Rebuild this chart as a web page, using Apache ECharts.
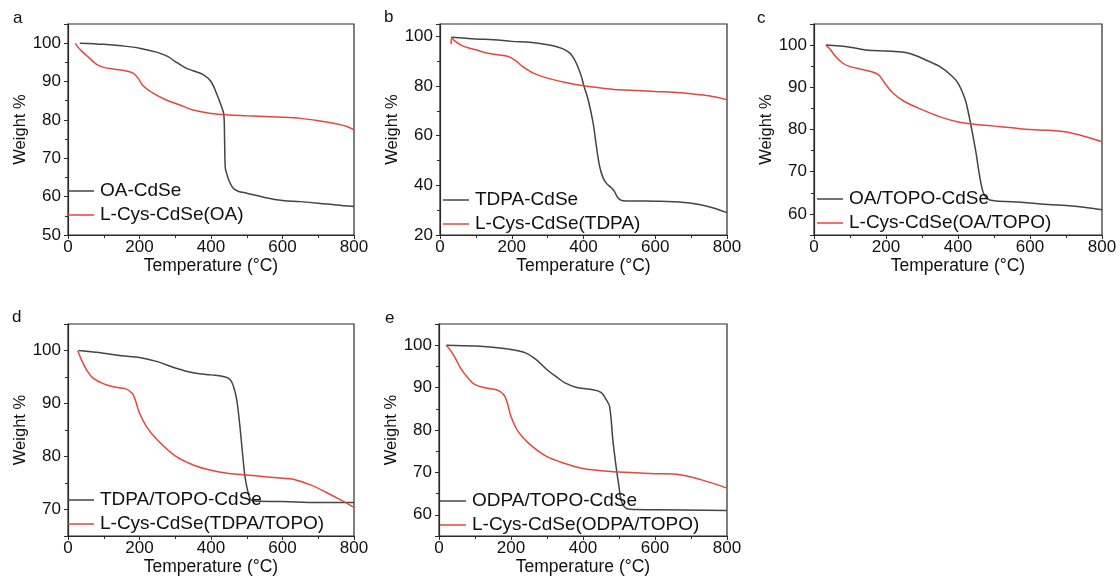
<!DOCTYPE html>
<html>
<head>
<meta charset="utf-8">
<script src="https://cdn.jsdelivr.net/npm/echarts@6/dist/echarts.min.js"></script>
<style>
html,body{margin:0;padding:0;background:#fff;}
#chart{width:1120px;height:583px;}
</style>
</head>
<body>
<div id="chart"></div>
<script>
// ---- Data (Temperature °C, Weight %) ----
const panelLabels = ['a', 'b', 'c', 'd', 'e'];
const blackNames = ['OA-CdSe', 'TDPA-CdSe', 'OA/TOPO-CdSe', 'TDPA/TOPO-CdSe', 'ODPA/TOPO-CdSe'];
const redNames = ['L-Cys-CdSe(OA)', 'L-Cys-CdSe(TDPA)', 'L-Cys-CdSe(OA/TOPO)', 'L-Cys-CdSe(TDPA/TOPO)', 'L-Cys-CdSe(ODPA/TOPO)'];
const xTicks = [0, 200, 400, 600, 800];

const aBlackT = [33, 100, 150, 200, 250, 280, 300, 330, 350, 380, 400, 415, 428, 436, 438, 440, 444, 452, 462, 476, 500, 550, 600, 650, 700, 750, 800];
const aBlackW = [100, 99.7, 99.3, 98.7, 97.6, 96.5, 95.2, 93.5, 92.8, 91.7, 90, 87, 83.8, 81.3, 75, 67.5, 66, 63.8, 62.2, 61.4, 60.9, 59.8, 59, 58.7, 58.3, 57.8, 57.4];
const aRedT = [21, 25, 40, 60, 80, 100, 130, 160, 182, 196, 210, 238, 275, 313, 350, 400, 450, 500, 600, 650, 700, 750, 780, 800];
const aRedW = [100, 99.3, 97.8, 96.1, 94.5, 93.7, 93.2, 92.8, 92.2, 90.9, 88.9, 87, 85.2, 83.9, 82.6, 81.7, 81.3, 81.1, 80.7, 80.4, 79.8, 79, 78.3, 77.4];

const bBlackT = [33, 100, 150, 200, 250, 300, 330, 350, 365, 380, 394, 401, 413, 427, 436, 445, 455, 464, 483, 497, 510, 550, 600, 650, 700, 750, 800];
const bBlackW = [99.7, 99, 98.7, 98, 97.6, 96.6, 95.6, 94.5, 92.8, 89.2, 83.9, 80.1, 74.5, 65, 55.6, 47.6, 42.9, 40.8, 38.2, 34.8, 33.8, 33.7, 33.6, 33.4, 32.8, 31.4, 29];
const bRedT = [31, 32.5, 40, 60, 80, 100, 130, 160, 190, 210, 230, 260, 300, 350, 400, 450, 500, 550, 600, 650, 700, 750, 800];
const bRedW = [96.8, 99.8, 98.3, 96.4, 95.3, 94.6, 93.3, 92.6, 91.9, 90.3, 87.9, 85.2, 83.2, 81.4, 80.1, 79.2, 78.5, 78.2, 77.8, 77.5, 76.9, 76.1, 74.5];

const cBlackT = [33, 100, 150, 200, 250, 280, 320, 350, 380, 400, 420, 430, 440, 450, 460, 470, 480, 500, 550, 600, 650, 700, 750, 800];
const cBlackW = [100, 99.5, 98.8, 98.6, 98.3, 97.6, 96.1, 94.9, 92.9, 91, 87.1, 83.5, 79.2, 74.5, 69, 65.1, 63.7, 63.1, 62.9, 62.6, 62.2, 62, 61.6, 61];
const cRedT = [33, 45, 60, 80, 100, 130, 160, 180, 200, 220, 250, 300, 350, 400, 450, 500, 550, 600, 650, 700, 750, 800];
const cRedW = [100, 99, 97.3, 95.7, 94.9, 94.3, 93.7, 92.9, 90.6, 88.6, 86.7, 84.7, 83, 81.8, 81.2, 80.8, 80.4, 80, 79.8, 79.4, 78.4, 77.1];

const dBlackT = [30, 100, 150, 200, 250, 300, 350, 400, 440, 454, 463, 472, 481, 489, 495, 502, 509, 519, 600, 700, 800];
const dBlackW = [100, 99.5, 99, 98.7, 97.9, 96.7, 95.8, 95.4, 95, 94.5, 93.2, 90.7, 85.6, 80, 76.2, 73.7, 72.1, 71.6, 71.5, 71.3, 71.3];
const dRedT = [27, 40, 55, 70, 100, 130, 160, 180, 188, 200, 220, 250, 300, 350, 400, 450, 500, 550, 600, 630, 680, 720, 760, 800];
const dRedW = [100, 97.9, 96, 94.8, 93.7, 93.1, 92.8, 91.9, 90.7, 88.2, 85.6, 83.1, 80.1, 78.4, 77.4, 76.8, 76.5, 76.2, 75.9, 75.7, 74.6, 73.3, 71.9, 70.4];

const eBlackT = [20, 100, 150, 200, 240, 270, 300, 330, 350, 380, 420, 450, 465, 474, 483, 492, 500, 506, 516, 530, 600, 800];
const eBlackW = [100, 99.8, 99.5, 99, 98.2, 96.6, 94.2, 92.3, 91.1, 90.1, 89.6, 88.9, 87.1, 85.5, 77.6, 71.3, 66.6, 63.4, 61.8, 61.3, 61.2, 61];
const eRedT = [20, 30, 45, 60, 80, 100, 130, 160, 180, 190, 200, 220, 250, 300, 350, 400, 450, 500, 550, 600, 650, 700, 750, 800];
const eRedW = [100, 99, 97, 94.6, 92.3, 90.7, 89.9, 89.5, 88.3, 86.3, 83.2, 79.6, 76.8, 73.7, 72.1, 70.9, 70.4, 70.1, 69.9, 69.7, 69.6, 68.9, 67.7, 66.3];

const yMins = [50, 20, 55, 65, 55];
const yMax = 105;
const yShowMin = [true, true, false, false, false];

const blackT = [aBlackT, bBlackT, cBlackT, dBlackT, eBlackT];
const blackW = [aBlackW, bBlackW, cBlackW, dBlackW, eBlackW];
const redT = [aRedT, bRedT, cRedT, dRedT, eRedT];
const redW = [aRedW, bRedW, cRedW, dRedW, eRedW];

// ---- Layout ----
const grids = [
  {left: 68, top: 24, width: 286, height: 211},
  {left: 440, top: 24, width: 287, height: 211},
  {left: 814, top: 24, width: 288, height: 211},
  {left: 68, top: 324, width: 286, height: 212},
  {left: 439, top: 324, width: 288, height: 212}
];
const labelPos = [[13, 10], [384, 9], [757, 10], [12, 309], [385, 310]];
const legendTop = [179, 188, 187, 488, 489];
const legendLeft = [68, 443, 817, 68, 440];

const BLACK = '#444';
const RED = '#e8453c';
const AX = '#2a2a2a';
const FONT = '"Liberation Sans", Arial, sans-serif';

const zip = (t, w) => t.map((v, i) => [v, w[i]]);

const option = {
  animation: false,
  backgroundColor: '#fff',
  textStyle: {fontFamily: FONT},
  grid: grids.map(g => Object.assign({show: true, borderColor: AX, borderWidth: 1.2, backgroundColor: 'transparent'}, g)),
  xAxis: grids.map((g, i) => ({
    type: 'value', gridIndex: i, min: 0, max: 800, interval: 200,
    name: 'Temperature (°C)', nameLocation: 'middle', nameGap: 20,
    nameTextStyle: {fontSize: 17.5, color: '#111', fontFamily: FONT},
    axisLine: {show: true, onZero: false, lineStyle: {color: AX, width: 1.2}},
    axisTick: {show: true, inside: false, length: 4, lineStyle: {color: AX}},
    minorTick: {show: true, splitNumber: 2, length: 3, lineStyle: {color: AX}},
    axisLabel: {fontSize: 17, color: '#111', margin: 4, fontFamily: FONT},
    splitLine: {show: false}
  })),
  yAxis: grids.map((g, i) => ({
    type: 'value', gridIndex: i, min: yMins[i], max: yMax, splitNumber: (i === 1 || i === 3) ? 4 : 5,
    name: 'Weight %', nameLocation: 'middle', nameGap: 38, nameRotate: 90,
    nameTextStyle: {fontSize: 16.5, color: '#111', fontFamily: FONT},
    axisLine: {show: true, onZero: false, lineStyle: {color: AX, width: 1.2}},
    axisTick: {show: true, inside: false, length: 4, lineStyle: {color: AX}},
    minorTick: {show: true, splitNumber: 2, length: 3, lineStyle: {color: AX}},
    axisLabel: {fontSize: 17, color: '#111', margin: 7, fontFamily: FONT,
      showMinLabel: yShowMin[i], showMaxLabel: false},
    splitLine: {show: false}
  })),
  legend: grids.map((g, i) => ({
    orient: 'vertical', left: legendLeft[i], top: legendTop[i],
    data: [
      {name: blackNames[i], icon: 'rect', itemStyle: {color: BLACK}},
      {name: redNames[i], icon: 'rect', itemStyle: {color: RED}}
    ],
    itemWidth: 26, itemHeight: 1.5, itemGap: 0, padding: 0,
    textStyle: {fontSize: 19, color: '#111', lineHeight: 24, fontFamily: FONT, padding: [0, 0, 0, 1]},
    selectedMode: false
  })),
  graphic: panelLabels.map((t, i) => ({
    type: 'text', left: labelPos[i][0], top: labelPos[i][1],
    style: {text: t, fontSize: 17, fill: '#111', fontFamily: FONT}
  })),
  series: []
};

for (let i = 0; i < 5; i++) {
  option.series.push({
    type: 'line', name: blackNames[i], xAxisIndex: i, yAxisIndex: i,
    data: zip(blackT[i], blackW[i]), showSymbol: false, symbol: 'none',
    smooth: 0.35,
    lineStyle: {color: BLACK, width: 1.5}, itemStyle: {color: BLACK}
  });
  option.series.push({
    type: 'line', name: redNames[i], xAxisIndex: i, yAxisIndex: i,
    data: zip(redT[i], redW[i]), showSymbol: false, symbol: 'none',
    smooth: 0.35,
    lineStyle: {color: RED, width: 1.5}, itemStyle: {color: RED}
  });
}

const chart = echarts.init(document.getElementById('chart'), null, {renderer: 'canvas'});
chart.setOption(option);
</script>
</body>
</html>
